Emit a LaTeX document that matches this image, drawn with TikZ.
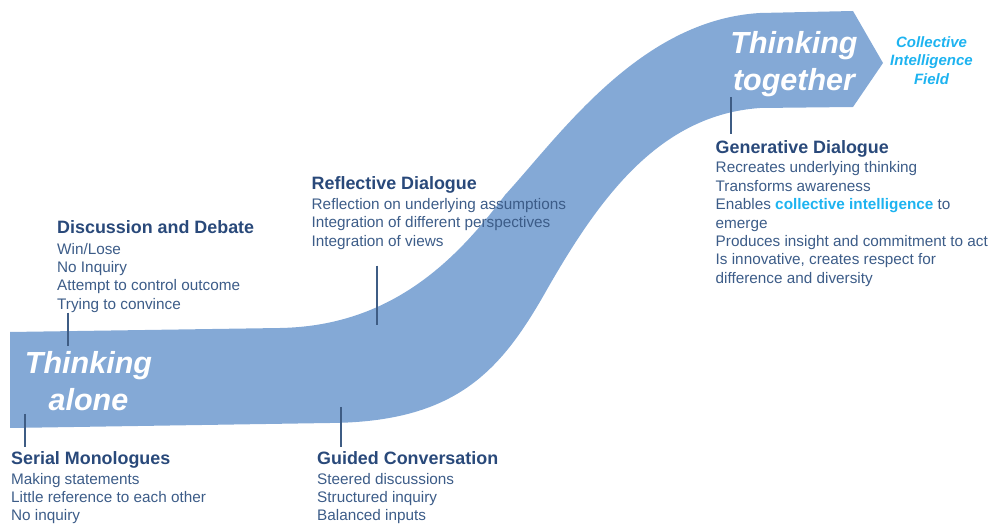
\documentclass[tikz,border=0pt]{standalone}
\usepackage{fontspec}
\setmainfont{Liberation Sans}
\definecolor{bandc}{HTML}{84A9D6}
\definecolor{navy}{HTML}{29497A}
\definecolor{bodyc}{HTML}{3C5C88}
\definecolor{cyanc}{HTML}{1DB3F0}
\definecolor{linec}{HTML}{3E5C84}
\begin{document}
\begin{tikzpicture}[x=1pt,y=-1pt,
  ttl/.style={anchor=base west, inner xsep=0pt, inner ysep=4.5pt, font=\fontsize{17.9}{21}\selectfont\bfseries, text=navy},
  bdy/.style={anchor=north west, inner sep=0pt, align=left, font=\fontsize{15.3}{18.35}\selectfont, text=bodyc},
  big/.style={anchor=north, inner sep=0pt, align=center, font=\fontsize{30.5}{36.3}\selectfont\bfseries\itshape, text=white},
  field/.style={anchor=north, inner sep=0pt, align=center, font=\fontsize{15}{18.3}\selectfont\bfseries\itshape, text=cyanc},
  conn/.style={draw=linec, line width=1.8pt}]
\useasboundingbox (0,0) rectangle (994,526);

% the band (S-shaped arrow)
\fill[bandc] (10,332) -- (280,328)
  .. controls (390,326) and (455,262) .. (505,195)
  .. controls (560,135) and (640,20) .. (760,13)
  -- (853,11) -- (883,63) -- (853,107) -- (760,108)
  .. controls (660,115) and (600,196) .. (545,293)
  .. controls (500,372) and (455,422) .. (330,423)
  -- (10,428) -- cycle;

% big labels
\node[big] (alone) at (88.5,351.5) {Thinking\\alone};
\node[big] (together) at (794,31.5) {Thinking\\together};
\node[field] (cif) at (931.5,36.6) {Collective\\Intelligence\\Field};

% Serial Monologues
\node[ttl] (smT) at (11,465) {Serial Monologues};
\node[bdy] (smB) at (11,473) {Making statements\\Little reference to each other\\No inquiry};
% Discussion and Debate
\node[ttl] (ddT) at (57,234) {Discussion and Debate};
\node[bdy] (ddB) at (57,243) {Win/Lose\\No Inquiry\\Attempt to control outcome\\Trying to convince};
% Reflective Dialogue
\node[ttl] (rdT) at (311.5,189.3) {Reflective Dialogue};
\node[bdy] (rdB) at (311.5,198.3) {Reflection on underlying assumptions\\Integration of different perspectives\\Integration of views};
% Guided Conversation
\node[ttl] (gcT) at (317,465) {Guided Conversation};
\node[bdy] (gcB) at (317,473) {Steered discussions\\Structured inquiry\\Balanced inputs};
% Generative Dialogue
\node[ttl, inner ysep=6.5pt] (gdT) at (715.5,153.3) {Generative Dialogue};
\node[bdy] (gdB) at (715.5,161.7) {Recreates underlying thinking\\Transforms awareness\\Enables \textcolor{cyanc}{\bfseries collective intelligence} to\\emerge\\Produces insight and commitment to act\\Is innovative, creates respect for\\difference and diversity};

% anchor points on the band
\coordinate (smP) at (25,414);
\coordinate (ddP) at (68,346);
\coordinate (rdP) at (377,325);
\coordinate (gcP) at (341,407);
\coordinate (gdP) at (731,97);

% connectors
\draw[conn] (smP) -- (smP |- smT.north);
\draw[conn] (ddB.south -| ddP) -- (ddP);
\draw[conn] ([yshift=-16pt]rdB.south -| rdP) -- (rdP);
\draw[conn] (gcP) -- (gcP |- gcT.north);
\draw[conn] (gdP) -- (gdP |- gdT.north);
\end{tikzpicture}
\end{document}
